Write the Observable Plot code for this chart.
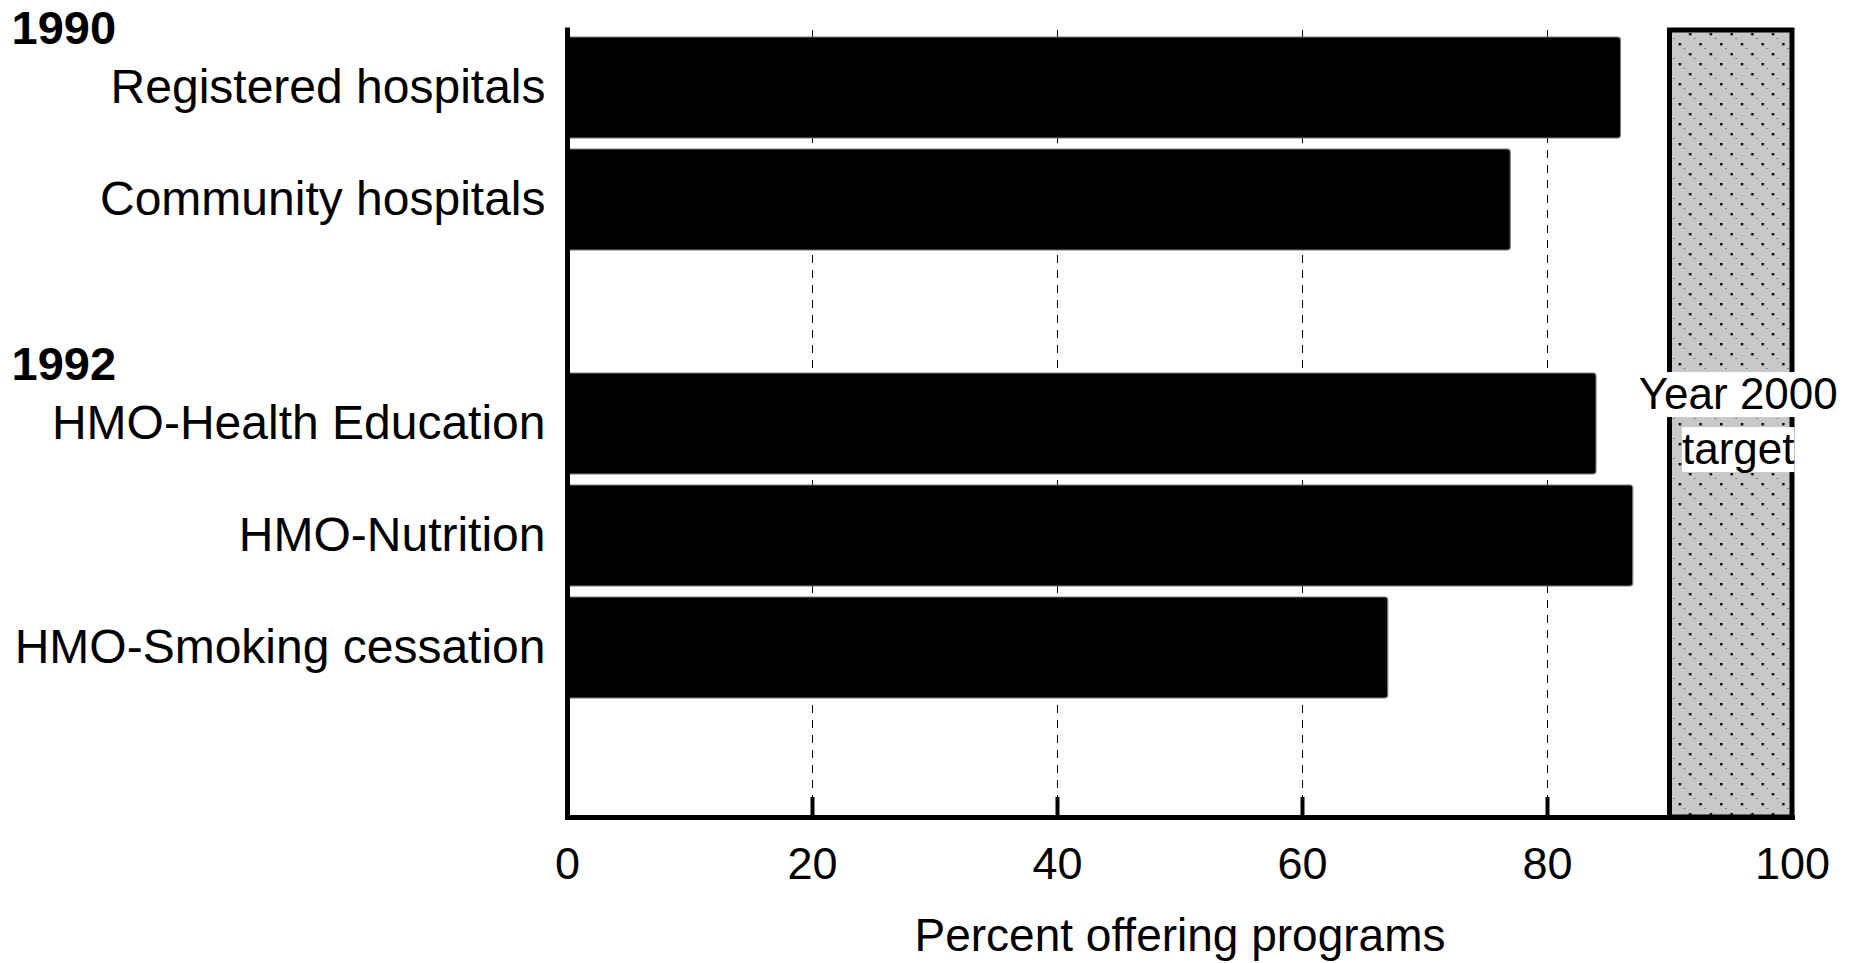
<!DOCTYPE html>
<html>
<head>
<meta charset="utf-8">
<script src="https://cdn.jsdelivr.net/npm/d3@7"></script>
<script src="https://cdn.jsdelivr.net/npm/@observablehq/plot@0.6"></script>
<style>
  html, body { margin: 0; padding: 0; background: #fff; }
  #chart { width: 1862px; height: 963px; }
</style>
</head>
<body>
<div id="chart"></div>
<script>
// ---- data ----
const years = ["1990", "1992"];
const labels1990 = ["Registered hospitals", "Community hospitals"];
const values1990 = [86, 77];
const labels1992 = ["HMO-Health Education", "HMO-Nutrition", "HMO-Smoking cessation"];
const values1992 = [84, 87, 67];
const xTicks = [0, 20, 40, 60, 80, 100];
const targetRange = [90, 100];
const targetLines = ["Year 2000", "target"];
const xTitle = "Percent offering programs";

// band domain with empty slots between/after groups
const yDomain = [...labels1990, "", ...labels1992, " "];
const rows = [
  ...labels1990.map((c, i) => ({category: c, value: values1990[i]})),
  ...labels1992.map((c, i) => ({category: c, value: values1992[i]}))
];
const groups = [
  {year: years[0], first: labels1990[0]},
  {year: years[1], first: labels1992[0]}
];

const W = 1862, H = 963;
const mL = 567, mR = 70, mT = 30, mB = 146;
const frameH = H - mT - mB;
const innerTicks = xTicks.filter(t => t > 0 && t < 100);

const chart = Plot.plot({
  width: W,
  height: H,
  marginLeft: mL,
  marginRight: mR,
  marginTop: mT,
  marginBottom: mB,
  style: {fontFamily: "'Liberation Sans', Arial, Helvetica, sans-serif", color: "black", background: "white"},
  x: {domain: [0, 100], label: null},
  y: {domain: yDomain, paddingInner: 0.1, paddingOuter: 0.05, label: null},
  marks: [
    Plot.ruleX(innerTicks, {stroke: "black", strokeWidth: 1, strokeDasharray: "8,7", insetBottom: 20}),
    Plot.ruleX(innerTicks, {stroke: "black", strokeWidth: 4, insetTop: frameH - 20}),
    Plot.rect([targetRange], {x1: d => d[0], x2: d => d[1], fill: "url(#dots)", stroke: "black", strokeWidth: 5}),
    Plot.barX(rows, {x: "value", y: "category", fill: "black", stroke: "#7a7a7a", strokeWidth: 1.2, rx: 3}),
    Plot.ruleX([0], {stroke: "black", strokeWidth: 5, strokeLinecap: "square"}),
    Plot.frame({anchor: "bottom", stroke: "black", strokeWidth: 5}),
    Plot.axisX({ticks: xTicks, tickSize: 0, tickPadding: 30, fontSize: 45, label: null}),
    Plot.axisY({tickSize: 0, tickPadding: 22, fontSize: 48, label: null}),
    Plot.text([xTitle], {frameAnchor: "bottom", lineAnchor: "top", dy: 101, fontSize: 46}),
    Plot.text(groups, {y: "first", text: "year", frameAnchor: "left", textAnchor: "start",
      dx: -(mL - 11), dy: -59, fontSize: 47, fontWeight: "bold", lineAnchor: "middle"}),
    Plot.text([targetLines[0]], {x: () => d3.mean(targetRange), y: () => labels1992[0],
      dx: 7, dy: -29, fontSize: 44, lineAnchor: "middle", ariaDescription: "target-label"}),
    Plot.text([targetLines[1]], {x: () => d3.mean(targetRange), y: () => labels1992[0],
      dx: 7, dy: 26, fontSize: 44, lineAnchor: "middle", ariaDescription: "target-label"})
  ]
});

document.getElementById("chart").appendChild(chart);

// dotted pattern definition
const svg = d3.select(chart.tagName.toLowerCase() === "svg" ? chart : chart.querySelector("svg"));
const defs = svg.insert("defs", ":first-child");
const pat = defs.append("pattern")
  .attr("id", "dots")
  .attr("patternUnits", "userSpaceOnUse")
  .attr("width", 20.7)
  .attr("height", 20);
pat.append("rect").attr("width", 20.7).attr("height", 20).attr("fill", "#c8c8c8");
pat.append("rect").attr("x", 2).attr("y", 3).attr("width", 2.4).attr("height", 2.4).attr("fill", "black");
pat.append("rect").attr("x", 12.35).attr("y", 13).attr("width", 2.4).attr("height", 2.4).attr("fill", "black");
pat.append("rect").attr("x", 7).attr("y", 8).attr("width", 1.5).attr("height", 1).attr("fill", "#666");
pat.append("rect").attr("x", 17.3).attr("y", 18).attr("width", 1.5).attr("height", 1).attr("fill", "#666");

// white background behind target label lines
svg.selectAll('g[aria-description="target-label"] text').each(function() {
  const b = this.getBBox();
  const r = document.createElementNS("http://www.w3.org/2000/svg", "rect");
  r.setAttribute("x", b.x);
  r.setAttribute("y", b.y + 3);
  r.setAttribute("width", b.width);
  r.setAttribute("height", b.height - 4);
  r.setAttribute("fill", "white");
  r.setAttribute("stroke", "none");
  const t = this.getAttribute("transform");
  if (t) r.setAttribute("transform", t);
  this.parentNode.insertBefore(r, this);
});
</script>
</body>
</html>
